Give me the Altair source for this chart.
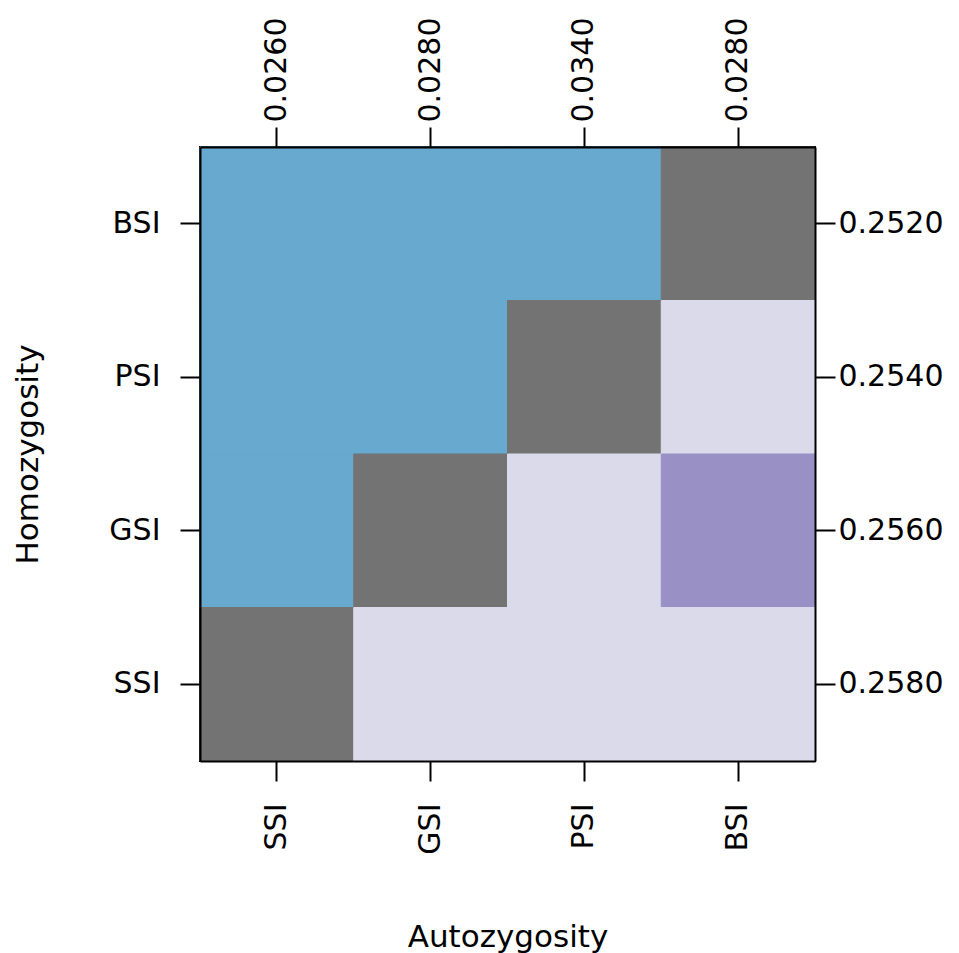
import altair as alt
import pandas as pd

x_cats = ["SSI", "GSI", "PSI", "BSI"]
y_cats = ["BSI", "PSI", "GSI", "SSI"]  # top to bottom
top_labels = ["0.0260", "0.0280", "0.0340", "0.0280"]
right_labels = ["0.2520", "0.2540", "0.2560", "0.2580"]

# cell class per row (top to bottom), per column (SSI, GSI, PSI, BSI)
cell_rows = [
    ["upper", "upper", "upper", "diag"],
    ["upper", "upper", "diag", "low"],
    ["upper", "diag", "low", "mid"],
    ["diag", "low", "low", "low"],
]
classes = ["upper", "diag", "low", "mid"]
colors = ["#67A9CF", "#737373", "#DADAEB", "#9990C5"]

records = []
for yi, yc in enumerate(y_cats):
    for xi, xc in enumerate(x_cats):
        records.append({"x": xc, "y": yc, "cls": cell_rows[yi][xi]})
df = pd.DataFrame(records)

top_map = dict(zip(x_cats, top_labels))
right_map = dict(zip(y_cats, right_labels))
top_expr = " : ".join([f"datum.value == '{k}' ? '{v}'" for k, v in top_map.items()]) + " : ''"
right_expr = " : ".join([f"datum.value == '{k}' ? '{v}'" for k, v in right_map.items()]) + " : ''"

FONT = "DejaVu Sans"
FS = 30
TFS = 31

xscale = alt.Scale(domain=x_cats, paddingInner=0, paddingOuter=0)
yscale = alt.Scale(domain=y_cats, paddingInner=0, paddingOuter=0)
cscale = alt.Scale(domain=classes, range=colors)

common_axis = dict(
    domain=True, domainWidth=2, domainColor="black", zindex=1,
    ticks=True, tickSize=20, tickWidth=2, tickColor="black",
    labelFont=FONT, labelFontSize=FS, labelColor="black", grid=False,
    titleFont=FONT, titleFontSize=TFS, titleColor="black", titleFontWeight="normal",
)

base = alt.Chart(df).mark_rect(strokeWidth=1).encode(
    x=alt.X("x:N", scale=xscale, sort=x_cats,
            axis=alt.Axis(orient="bottom", title="Autozygosity", labelAngle=270,
                          labelAlign="right", labelBaseline="middle", labelPadding=22,
                          titleX=307.5, titleY=176, titleBaseline="middle", titleAlign="center",
                          **common_axis)),
    y=alt.Y("y:N", scale=yscale, sort=y_cats,
            axis=alt.Axis(orient="left", title="Homozygosity", labelAngle=0,
                          labelAlign="right", labelBaseline="middle", labelPadding=20,
                          titleX=-172, titleY=307, titleAngle=270, titleBaseline="middle",
                          titleAlign="center", **common_axis)),
    color=alt.Color("cls:N", scale=cscale, legend=None),
    stroke=alt.Stroke("cls:N", scale=cscale, legend=None),
)

overlay = alt.Chart(df).mark_rect(opacity=0).encode(
    x=alt.X("x:N", scale=xscale, sort=x_cats,
            axis=alt.Axis(orient="top", title=None, labelAngle=270, labelExpr=top_expr,
                          labelAlign="left", labelBaseline="middle", labelPadding=5,
                          **common_axis)),
    y=alt.Y("y:N", scale=yscale, sort=y_cats,
            axis=alt.Axis(orient="right", title=None, labelAngle=0, labelExpr=right_expr,
                          labelAlign="left", labelBaseline="middle", labelPadding=3,
                          **common_axis)),
)

chart = alt.layer(base, overlay).resolve_axis(x="independent", y="independent").properties(
    width=615, height=614,
    autosize=alt.AutoSizeParams(type="none"),
    padding={"left": 200, "top": 147, "right": 144, "bottom": 192},
    background="white",
).configure_view(stroke="black", strokeWidth=2)

chart.save("out.html", embed_options={"renderer": "svg", "actions": False})
